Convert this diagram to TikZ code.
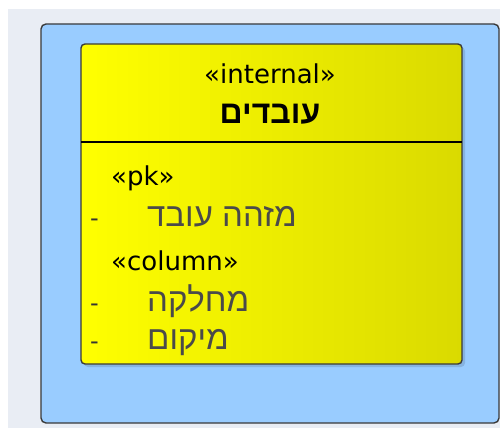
\documentclass[tikz,border=0pt]{standalone}
\usepackage{fontspec}
\setmainfont{DejaVu Sans}
\newfontfamily\heb[Script=Hebrew]{Liberation Sans}
\TeXXeTstate=1
\definecolor{pagebg}{HTML}{E9EDF4}
\definecolor{pkgblue}{HTML}{99CCFF}
\definecolor{edgegray}{HTML}{3A3A3A}
\definecolor{yelL}{HTML}{FFFF00}
\definecolor{yelR}{HTML}{DADA00}
\definecolor{attrgray}{HTML}{4A4A4A}
\tikzset{
  stereo/.style={font=\fontsize{26}{26}\selectfont, text=black, inner sep=0pt},
  attr/.style={font=\heb\fontsize{33}{33}\selectfont, text=attrgray, inner sep=0pt, anchor=base west},
  vis/.style={font=\fontsize{24}{24}\selectfont, text=black!80, inner sep=0pt},
}
\begin{document}
\begin{tikzpicture}[x=1pt,y=-1pt]
  \useasboundingbox (0,0) rectangle (500,430);
  % canvas
  \fill[white] (0,0) rectangle (500,430);
  \fill[pagebg] (8,9) rectangle (500,428);
  % package frame
  \draw[edgegray, line width=1.4pt, fill=pkgblue, rounded corners=5pt]
    (41,24) rectangle (499,423);
  % table shadow
  \fill[black, opacity=0.12, rounded corners=4pt] (84,47) rectangle (465,367);
  % table body
  \shade[left color=yelL, right color=yelR, rounded corners=4pt]
    (81,44) rectangle (462,364);
  \draw[edgegray, line width=1.4pt, rounded corners=4pt]
    (81,44) rectangle (462,364);
  \coordinate (divL) at (81,142);
  \coordinate (divR) at (462,142);
  \draw[black, line width=1.2pt] (divL) -- (divR);
  % header
  \node[stereo, anchor=base] (st) at (270,84) {«internal»};
  \node[font=\heb\bfseries\fontsize{32}{32}\selectfont, inner sep=0pt, anchor=base] (nm) at (270,124) {\beginR עובדים\endR};
  % attributes
  \node[stereo, anchor=base west] (pk) at (111,186) {«pk»};
  \node[vis, anchor=base west] (d1) at (90,227) {-};
  \node[attr] (a1) at (147,227) {\beginR מזהה עובד\endR};
  \node[stereo, anchor=base west] (col) at (111,270) {«column»};
  \node[vis, anchor=base west] (d2) at (90,311) {-};
  \node[attr] (a2) at (147,311) {\beginR מחלקה\endR};
  \node[vis, anchor=base west] (d3) at (90,349) {-};
  \node[attr] (a3) at (147,349) {\beginR מיקום\endR};
\end{tikzpicture}
\end{document}
